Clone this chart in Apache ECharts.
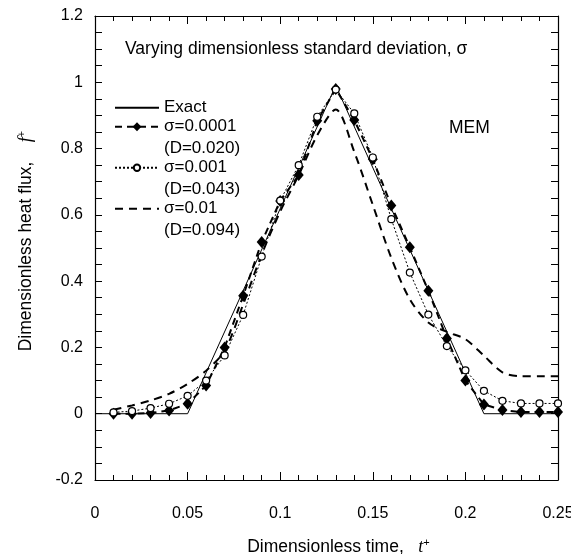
<!DOCTYPE html>
<html>
<head>
<meta charset="utf-8">
<script src="https://cdn.jsdelivr.net/npm/echarts@6/dist/echarts.min.js"></script>
<style>html,body{margin:0;padding:0;background:#fff}#c{width:571px;height:554px}</style>
</head>
<body>
<div id="c"></div>
<script>
// ---- data ----
var exactT = [0, 0.05, 0.13, 0.21, 0.25];
var exactF = [0, 0, 0.99, 0, 0];
var timeT = [0.01,0.02,0.03,0.04,0.05,0.06,0.07,0.08,0.09,0.10,0.11,0.12,0.13,0.14,0.15,0.16,0.17,0.18,0.19,0.20,0.21,0.22,0.23,0.24,0.25];
var sigma0001 = [0.0,0.0,0.002,0.01,0.03,0.085,0.20,0.356,0.518,0.642,0.72,0.884,0.98,0.886,0.768,0.628,0.502,0.371,0.227,0.10,0.028,0.011,0.005,0.005,0.005];
var sigma001 = [0.004,0.008,0.017,0.03,0.054,0.10,0.176,0.298,0.474,0.643,0.75,0.896,0.978,0.906,0.773,0.587,0.426,0.299,0.204,0.131,0.069,0.039,0.031,0.031,0.031];
var sigma01 = [0.012,0.025,0.04,0.06,0.09,0.13,0.19,0.33,0.48,0.61,0.72,0.84,0.918,0.79,0.63,0.47,0.345,0.275,0.247,0.225,0.175,0.125,0.113,0.113,0.113];
var seriesNames = ['Exact','σ=0.0001','σ=0.001','σ=0.01'];
var dLabels = ['', '(D=0.020)', '(D=0.043)', '(D=0.094)'];
var xTicks = {min: 0, max: 0.25, interval: 0.05};
var yTicks = {min: -0.2, max: 1.2, interval: 0.2};

function pairs(xs, ys){ return xs.map(function(x,i){ return [x, ys[i]]; }); }

var FONT = 'Liberation Sans, Arial, sans-serif';
var axisLineStyle = {color:'#000', width:1.2};

function legendFor(i, top, hideSymbol, iconH){
  var lg = {
    data:[seriesNames[i]], left:114, top:top, orient:'vertical', padding:0,
    itemWidth:44, itemHeight:iconH, selectedMode:false,
    formatter: function(n){ return dLabels[i] ? '\n' + n + '\n' + dLabels[i] : n; },
    textStyle:{fontFamily:FONT, fontSize:17, color:'#000', lineHeight:21.5}
  };
  if (hideSymbol) lg.itemStyle = {opacity:0, color:'rgba(0,0,0,0)', borderWidth:0};
  return lg;
}

function tickCfg(len){ return {show:true, inside:true, length:len, lineStyle:{color:'#000', width:1}}; }

var chart = echarts.init(document.getElementById('c'), null, {renderer:'canvas'});
chart.setOption({
  animation:false,
  backgroundColor:'#fff',
  grid:{left:95, right:13, top:16, bottom:74, containLabel:false, outerBoundsMode:'none'},
  title:[
    {text:'Varying dimensionless standard deviation, σ', left:125, top:40, padding:0,
     textStyle:{fontFamily:FONT, fontSize:17.5, fontWeight:'normal', color:'#000'}},
    {text:'MEM', left:449, top:119, padding:0,
     textStyle:{fontFamily:FONT, fontSize:17.5, fontWeight:'normal', color:'#000'}}
  ],
  legend:[legendFor(0,97,true,9), legendFor(1,94.5,false,11), legendFor(2,135.5,false,8), legendFor(3,176.5,true,9)],
  xAxis:[{
    type:'value', min:xTicks.min, max:xTicks.max, interval:xTicks.interval,
    axisLine:{show:true, onZero:false, lineStyle:axisLineStyle}, splitLine:{show:false},
    axisTick:tickCfg(8),
    minorTick:{show:true, splitNumber:5, length:5, lineStyle:{color:'#000'}},
    axisLabel:{margin:26, fontFamily:FONT, fontSize:16, color:'#000'},
    name:'{a|Dimensionless time,   }{i|t}{s|+}', nameLocation:'middle', nameGap:57,
    nameTextStyle:{padding:[0,0,0,24], rich:{
      a:{fontFamily:FONT, fontSize:17.5, color:'#000', lineHeight:20},
      i:{fontFamily:'Liberation Serif, serif', fontStyle:'italic', fontSize:18, color:'#000', lineHeight:20},
      s:{fontFamily:FONT, fontSize:11, color:'#000', verticalAlign:'top', lineHeight:20}
    }}
  },{
    type:'value', position:'top', min:xTicks.min, max:xTicks.max, interval:xTicks.interval,
    axisLine:{show:true, onZero:false, lineStyle:axisLineStyle}, splitLine:{show:false},
    axisTick:tickCfg(8),
    minorTick:{show:true, splitNumber:5, length:5, lineStyle:{color:'#000'}},
    axisLabel:{show:false}
  }],
  yAxis:[{
    type:'value', min:yTicks.min, max:yTicks.max, interval:yTicks.interval,
    axisLine:{show:true, onZero:false, lineStyle:axisLineStyle}, splitLine:{show:false},
    axisTick:tickCfg(7),
    minorTick:{show:true, splitNumber:4, length:7, lineStyle:{color:'#000'}},
    axisLabel:{margin:12, fontFamily:FONT, fontSize:16, color:'#000'},
    name:'{a|Dimensionless heat flux,    }{i|f}{s|+}', nameLocation:'middle', nameGap:59,
    nameTextStyle:{padding:[0,0,0,14], rich:{
      a:{fontFamily:FONT, fontSize:17.5, color:'#000', lineHeight:20},
      i:{fontFamily:'Liberation Serif, serif', fontStyle:'italic', fontSize:18, color:'#000', lineHeight:20},
      s:{fontFamily:FONT, fontSize:11, color:'#000', verticalAlign:'top', lineHeight:20}
    }}
  },{
    type:'value', position:'right', min:yTicks.min, max:yTicks.max, interval:yTicks.interval,
    axisLine:{show:true, onZero:false, lineStyle:axisLineStyle}, splitLine:{show:false},
    axisTick:tickCfg(7),
    minorTick:{show:true, splitNumber:4, length:7, lineStyle:{color:'#000'}},
    axisLabel:{show:false}
  }],
  series:[
    {name:seriesNames[0], type:'line', data:pairs(exactT, exactF), symbol:'none',
     lineStyle:{color:'#000', width:1}, itemStyle:{color:'#000'}, z:2},
    {name:seriesNames[1], type:'line', data:pairs(timeT, sigma0001), symbol:'diamond', symbolSize:[10,12],
     lineStyle:{color:'#000', width:2, type:[7,5]}, itemStyle:{color:'#000', borderWidth:0}, z:4},
    {name:seriesNames[2], type:'line', data:pairs(timeT, sigma001), symbol:'circle', symbolSize:7,
     lineStyle:{color:'#000', width:1, type:[2,2]}, itemStyle:{color:'#fff', borderColor:'#000', borderWidth:1.2}, z:5},
    {name:seriesNames[3], type:'line', data:pairs(timeT, sigma01), symbol:'none', smooth:0.3,
     lineStyle:{color:'#000', width:2, type:[8,6]}, itemStyle:{color:'#000'}, z:3}
  ]
});
</script>
</body>
</html>
